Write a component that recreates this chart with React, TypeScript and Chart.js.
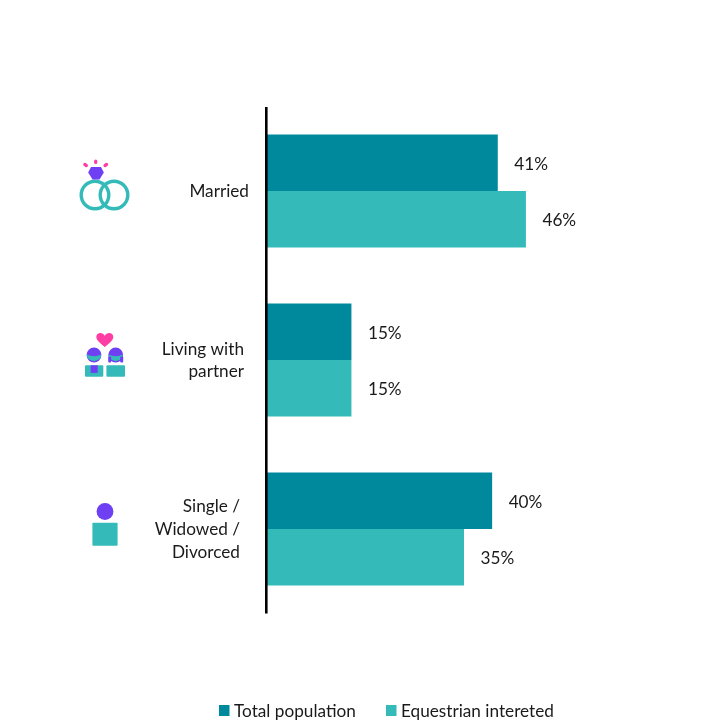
import React, { useEffect, useRef } from "react";
import { Chart, registerables } from "chart.js";

Chart.register(...registerables);

const categories = ["Married", "Living with partner", "Single / Widowed / Divorced"];
const categoryLines = [["Married"], ["Living with", "partner"], ["Single /", "Widowed /", "Divorced"]];
const totalPopulation = [41, 15, 40];
const equestrianInterested = [46, 15, 35];
const seriesNames = ["Total population", "Equestrian intereted"];

const DARK_TEAL = "#00899D";
const LIGHT_TEAL = "#34BBB9";
const PURPLE = "#6E3FF3";
const PINK = "#FF3EA5";
const FONT = "17.2px Lato, Carlito, sans-serif";
const TEXT = "#1a1a1a";

// Right edge and line spacing of each category's label block
const labelRight = [249, 244, 240];
const labelLeading = [22, 21.5, 23];
const legendBoxes = [219, 386];

function roundedRect(ctx: CanvasRenderingContext2D, x: number, y: number, w: number, h: number, r: number, color: string) {
  ctx.fillStyle = color;
  ctx.beginPath();
  ctx.roundRect(x, y, w, h, r);
  ctx.fill();
}

function disc(ctx: CanvasRenderingContext2D, x: number, y: number, r: number, color: string) {
  ctx.fillStyle = color;
  ctx.beginPath();
  ctx.arc(x, y, r, 0, Math.PI * 2);
  ctx.fill();
}

function drawRings(ctx: CanvasRenderingContext2D, cy: number) {
  ctx.strokeStyle = LIGHT_TEAL;
  ctx.lineWidth = 3.4;
  for (const x of [95, 114]) {
    ctx.beginPath();
    ctx.arc(x, cy + 4, 13.8, 0, Math.PI * 2);
    ctx.stroke();
  }
  ctx.fillStyle = PURPLE;
  ctx.beginPath();
  ctx.moveTo(91, cy - 24);
  ctx.lineTo(101, cy - 24);
  ctx.lineTo(103.8, cy - 18.5);
  ctx.lineTo(99.5, cy - 11.5);
  ctx.lineTo(92.5, cy - 11.5);
  ctx.lineTo(88.2, cy - 18.5);
  ctx.closePath();
  ctx.fill();
  ctx.strokeStyle = PINK;
  ctx.lineWidth = 3.2;
  ctx.lineCap = "round";
  for (const [x1, y1, x2, y2] of [
    [95.7, cy - 30, 95.7, cy - 28.6],
    [84.8, cy - 26.6, 86.4, cy - 25.4],
    [106.6, cy - 26.6, 105, cy - 25.4],
  ]) {
    ctx.beginPath();
    ctx.moveTo(x1, y1);
    ctx.lineTo(x2, y2);
    ctx.stroke();
  }
  ctx.lineCap = "butt";
}

function drawCouple(ctx: CanvasRenderingContext2D, cy: number) {
  // heart
  const hx = 104.8;
  const hy = cy - 20.5;
  ctx.fillStyle = PINK;
  ctx.beginPath();
  ctx.moveTo(hx, hy + 7.5);
  ctx.bezierCurveTo(hx - 4, hy + 4, hx - 8.5, hy + 1, hx - 8.5, hy - 2.5);
  ctx.bezierCurveTo(hx - 8.5, hy - 7, hx - 2, hy - 8, hx, hy - 3.5);
  ctx.bezierCurveTo(hx + 2, hy - 8, hx + 8.5, hy - 7, hx + 8.5, hy - 2.5);
  ctx.bezierCurveTo(hx + 8.5, hy + 1, hx + 4, hy + 4, hx, hy + 7.5);
  ctx.fill();

  // heads: purple hair over a teal face
  for (const x of [94, 115.7]) {
    disc(ctx, x, cy - 5, 7.4, PURPLE);
    ctx.fillStyle = LIGHT_TEAL;
    ctx.beginPath();
    ctx.moveTo(x - 7.2, cy - 5.5);
    ctx.quadraticCurveTo(x, cy - 2, x + 7.2, cy - 5.5);
    ctx.lineTo(x + 6.4, cy - 2);
    ctx.quadraticCurveTo(x, cy + 4.5, x - 6.4, cy - 2);
    ctx.closePath();
    ctx.fill();
  }
  // longer hair on the right-hand figure
  roundedRect(ctx, 108.2, cy - 3.5, 3, 6, 1, PURPLE);
  roundedRect(ctx, 120.2, cy - 3.5, 3, 6, 1, PURPLE);

  roundedRect(ctx, 85, cy + 5.3, 18.3, 11.4, 1, LIGHT_TEAL);
  roundedRect(ctx, 106.4, cy + 5.3, 18.6, 11.4, 1, LIGHT_TEAL);
  ctx.fillStyle = PURPLE;
  ctx.fillRect(90.7, cy + 5.3, 7, 7.6);
}

function drawPerson(ctx: CanvasRenderingContext2D, cy: number) {
  disc(ctx, 105, cy - 17.5, 8.4, PURPLE);
  roundedRect(ctx, 92.4, cy - 6.2, 25.2, 23, 0.8, LIGHT_TEAL);
}

const icons = [drawRings, drawCouple, drawPerson];

// Draws the vertical baseline, value labels, category labels, icons and legend
const annotations = {
  id: "annotations",
  afterDatasetsDraw(chart: Chart) {
    const ctx = chart.ctx;
    const yScale = chart.scales.y;
    const { left, top, bottom } = chart.chartArea;
    ctx.save();

    ctx.strokeStyle = "#000";
    ctx.lineWidth = 2.6;
    ctx.beginPath();
    ctx.moveTo(left - 0.7, top + 0.5);
    ctx.lineTo(left - 0.7, bottom);
    ctx.stroke();

    ctx.font = FONT;
    ctx.textBaseline = "middle";

    chart.data.datasets.forEach((ds, di) => {
      chart.getDatasetMeta(di).data.forEach((bar, i) => {
        ctx.fillStyle = TEXT;
        ctx.textAlign = "left";
        ctx.fillText(`${ds.data[i]}%`, bar.x + 16.5, bar.y + 1.5);
      });
    });

    categoryLines.forEach((lines, i) => {
      const cy = yScale.getPixelForValue(i);
      ctx.fillStyle = TEXT;
      ctx.textAlign = "right";
      const start = cy - ((lines.length - 1) * labelLeading[i]) / 2 + 0.5;
      lines.forEach((line, li) => ctx.fillText(line, labelRight[i], start + li * labelLeading[i]));
      icons[i](ctx, cy);
    });

    chart.data.datasets.forEach((ds, di) => {
      ctx.fillStyle = ds.backgroundColor as string;
      ctx.fillRect(legendBoxes[di], 705, 10.5, 11);
      ctx.fillStyle = TEXT;
      ctx.textAlign = "left";
      ctx.fillText(ds.label as string, legendBoxes[di] + 15, 711.5);
    });
    ctx.restore();
  },
};

export default function App() {
  const canvasRef = useRef<HTMLCanvasElement>(null);

  useEffect(() => {
    const chart = new Chart(canvasRef.current!, {
      type: "bar",
      data: {
        labels: categories,
        datasets: [
          { label: seriesNames[0], data: totalPopulation, backgroundColor: DARK_TEAL },
          { label: seriesNames[1], data: equestrianInterested, backgroundColor: LIGHT_TEAL },
        ],
      },
      options: {
        indexAxis: "y",
        responsive: false,
        animation: false,
        layout: { padding: { left: 267, right: 43, top: 106.5, bottom: 114.5 } },
        datasets: { bar: { categoryPercentage: 0.669, barPercentage: 1 } },
        scales: {
          x: { display: false, min: 0, max: 70 },
          y: {
            ticks: { display: false },
            grid: { display: false, drawTicks: false },
            border: { display: false },
          },
        },
        plugins: { legend: { display: false }, tooltip: { enabled: false } },
      },
      plugins: [annotations],
    });
    return () => chart.destroy();
  }, []);

  return (
    <canvas
      ref={canvasRef}
      width={704}
      height={728}
      style={{ position: "absolute", left: 0, top: 0, display: "block", background: "#fff" }}
    />
  );
}
